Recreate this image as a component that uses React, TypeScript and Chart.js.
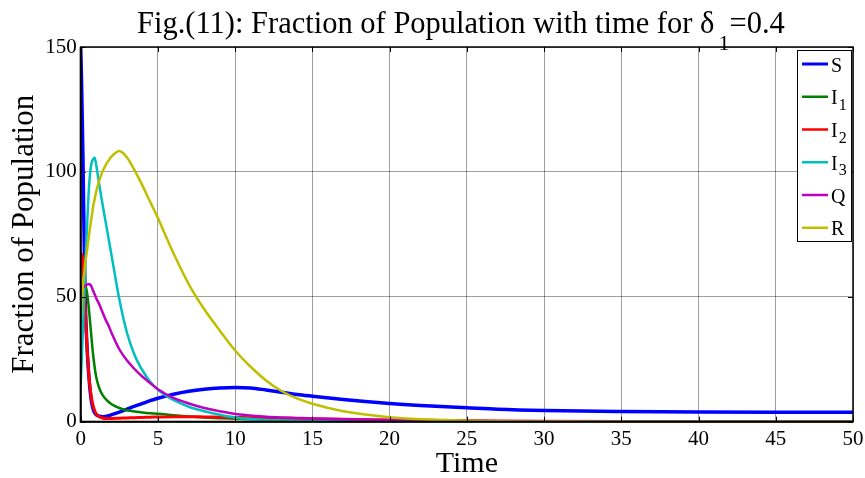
import { useEffect, useRef } from 'react';
import { Chart, registerables } from 'chart.js';

Chart.register(...registerables);

// ---- data ----
const TIME = [0, 0.05, 0.1, 0.15, 0.2, 0.25, 0.3, 0.4, 0.5, 0.6, 0.7, 0.8, 0.9, 1.0, 1.2, 1.4, 1.6, 1.8, 2.0, 2.5, 3.0, 3.5, 4.0, 4.5, 5, 6, 7, 8, 9, 10, 11, 12, 13, 14, 15, 17, 20, 22, 25, 27, 30, 35, 40, 45, 50];

const S_VALUES = [150, 138, 122, 104, 82, 62, 47, 31, 20.5, 13, 8, 5.2, 3.6, 2.8, 2.2, 2.0, 2.1, 2.4, 2.8, 3.8, 5.0, 6.2, 7.3, 8.4, 9.4, 11.0, 12.2, 13.0, 13.5, 13.7, 13.5, 12.7, 11.8, 10.9, 10.2, 8.9, 7.3, 6.5, 5.6, 5.0, 4.5, 4.1, 3.9, 3.8, 3.8];
const I1_VALUES = [40, 47, 51, 53, 54, 54.5, 54.5, 52, 47, 40.5, 33.5, 27, 22, 18, 13.5, 10.8, 9.2, 8, 7, 5.5, 4.6, 4.1, 3.7, 3.4, 3.2, 2.6, 2.1, 1.7, 1.4, 1.2, 1.0, 0.8, 0.6, 0.5, 0.4, 0.25, 0.1, 0.05, 0.02, 0, 0, 0, 0, 0, 0];
const I2_VALUES = [67, 67, 66.5, 63, 57, 51, 44, 31, 21, 14, 9.5, 6.5, 4.5, 3.2, 2.0, 1.5, 1.3, 1.3, 1.3, 1.4, 1.5, 1.6, 1.7, 1.8, 1.9, 2.0, 2.0, 1.9, 1.8, 1.7, 1.6, 1.5, 1.4, 1.3, 1.2, 1.0, 0.7, 0.55, 0.4, 0.3, 0.2, 0.1, 0.05, 0.02, 0];
const I3_VALUES = [15, 22, 30, 38, 46, 54, 63, 77, 90, 99, 103.5, 105, 105.7, 103, 95, 87.5, 80.5, 73.5, 66.5, 49, 35.5, 26.5, 20.5, 16, 12.8, 8.7, 6, 4.2, 2.8, 1.7, 1.1, 0.7, 0.5, 0.35, 0.25, 0.15, 0.08, 0.04, 0, 0, 0, 0, 0, 0, 0];
const Q_VALUES = [54, 54, 54, 54, 54, 54.2, 54.5, 54.8, 55, 55, 54, 52.5, 51, 49.5, 47, 44, 41, 38.5, 35.5, 29, 24.5, 21, 18, 15.5, 13, 9.5, 7.3, 5.5, 4.2, 3.1, 2.5, 2.0, 1.7, 1.5, 1.3, 1.0, 0.7, 0.5, 0.3, 0.2, 0.1, 0, 0, 0, 0];
const R_VALUES = [40.7, 45.5, 50, 54.5, 58, 61, 64, 68, 73, 77.5, 81.5, 86, 89, 92, 96.5, 100, 102.5, 104.5, 106.2, 108.4, 105.8, 100.5, 94.5, 88, 81.5, 67.5, 55, 45, 36.5, 28.5, 22, 16.5, 12.3, 9.3, 7.2, 4.2, 1.8, 1.0, 0.4, 0.2, 0.1, 0, 0, 0, 0];

const SERIES_NAMES = ['S', 'I', 'I', 'I', 'Q', 'R'];
const SERIES_SUBS = ['', '1', '2', '3', '', ''];
const SERIES_COLORS = ['#0000ff', '#008000', '#ff0000', '#00bfbf', '#bf00bf', '#bfbf00'];
const SERIES_WIDTHS = [3.5, 2.5, 3, 2.5, 2.5, 2.5];
const SERIES_VALUES = [S_VALUES, I1_VALUES, I2_VALUES, I3_VALUES, Q_VALUES, R_VALUES];

const X_TICKS = [0, 5, 10, 15, 20, 25, 30, 35, 40, 45, 50];
const Y_TICKS = [0, 50, 100, 150];

const TITLE_MAIN = 'Fig.(11): Fraction of Population with time for δ';
const TITLE_SUB = '1';
const TITLE_END = '=0.4';
const X_LABEL = 'Time';
const Y_LABEL = 'Fraction of Population';

const FONT = "'Liberation Serif', 'Times New Roman', serif";

const decorPlugin = {
  id: 'decor',
  afterDraw(chart: any) {
    const ctx = chart.ctx as CanvasRenderingContext2D;
    const area = chart.chartArea;
    const xs = chart.scales.x;
    const ys = chart.scales.y;
    ctx.save();

    // inner ticks
    ctx.strokeStyle = '#000';
    ctx.lineWidth = 1;
    const tl = 5;
    for (const t of X_TICKS) {
      const px = Math.round(xs.getPixelForValue(t)) + 0.5;
      ctx.beginPath();
      ctx.moveTo(px, area.bottom);
      ctx.lineTo(px, area.bottom - tl);
      ctx.moveTo(px, area.top);
      ctx.lineTo(px, area.top + tl);
      ctx.stroke();
    }
    for (const v of Y_TICKS) {
      const py = Math.round(ys.getPixelForValue(v)) + 0.5;
      ctx.beginPath();
      ctx.moveTo(area.left, py);
      ctx.lineTo(area.left + tl, py);
      ctx.moveTo(area.right, py);
      ctx.lineTo(area.right - tl, py);
      ctx.stroke();
    }

    // box
    ctx.lineWidth = 1.5;
    ctx.strokeRect(area.left, area.top, area.right - area.left, area.bottom - area.top);
    ctx.lineWidth = 2;
    ctx.beginPath();
    ctx.moveTo(area.left, area.top);
    ctx.lineTo(area.left, area.bottom);
    ctx.lineTo(area.right, area.bottom);
    ctx.stroke();

    // title
    ctx.fillStyle = '#000';
    ctx.textBaseline = 'alphabetic';
    ctx.textAlign = 'left';
    ctx.font = `30.5px ${FONT}`;
    let x = 137;
    ctx.fillText(TITLE_MAIN, x, 33);
    x += ctx.measureText(TITLE_MAIN).width + 4;
    ctx.font = `22px ${FONT}`;
    ctx.fillText(TITLE_SUB, x, 50);
    x += ctx.measureText(TITLE_SUB).width;
    ctx.font = `30.5px ${FONT}`;
    ctx.fillText(TITLE_END, x, 33);

    // x label
    ctx.textAlign = 'center';
    ctx.font = `30px ${FONT}`;
    ctx.fillText(X_LABEL, (area.left + area.right) / 2, 472);

    // y label
    ctx.save();
    ctx.translate(33, (area.top + area.bottom) / 2);
    ctx.rotate(-Math.PI / 2);
    ctx.textAlign = 'center';
    ctx.font = `31px ${FONT}`;
    ctx.fillText(Y_LABEL, 0, 0);
    ctx.restore();

    // legend
    const lx = 797, ly = 50, lw = 54, lh = 191;
    ctx.fillStyle = '#fff';
    ctx.fillRect(lx, ly, lw, lh);
    ctx.strokeStyle = '#000';
    ctx.lineWidth = 1;
    ctx.strokeRect(lx + 0.5, ly + 0.5, lw, lh);
    for (let i = 0; i < SERIES_NAMES.length; i++) {
      const yy = 64 + i * 32.75;
      ctx.strokeStyle = SERIES_COLORS[i];
      ctx.lineWidth = i === 0 ? 3 : 2.5;
      ctx.beginPath();
      ctx.moveTo(802, yy);
      ctx.lineTo(828, yy);
      ctx.stroke();
      ctx.fillStyle = '#000';
      ctx.textAlign = 'left';
      ctx.font = `20px ${FONT}`;
      ctx.fillText(SERIES_NAMES[i], 831, yy + 7.5);
      if (SERIES_SUBS[i]) {
        const w = ctx.measureText(SERIES_NAMES[i]).width;
        ctx.font = `16px ${FONT}`;
        ctx.fillText(SERIES_SUBS[i], 831 + w + 1, yy + 13);
      }
    }
    ctx.restore();
  },
};

export default function App() {
  const ref = useRef<HTMLCanvasElement | null>(null);
  useEffect(() => {
    if (!ref.current) return;
    const chart = new Chart(ref.current, {
      type: 'scatter',
      data: {
        datasets: SERIES_VALUES.map((vals, i) => ({
          label: SERIES_NAMES[i] + SERIES_SUBS[i],
          data: TIME.map((t, k) => ({ x: t, y: vals[k] })),
          showLine: true,
          borderColor: SERIES_COLORS[i],
          backgroundColor: SERIES_COLORS[i],
          borderWidth: SERIES_WIDTHS[i],
          pointRadius: 0,
          pointHoverRadius: 0,
          cubicInterpolationMode: 'monotone' as const,
          order: SERIES_VALUES.length - i,
        })),
      },
      options: {
        animation: false,
        responsive: true,
        maintainAspectRatio: false,
        events: [],
        layout: { padding: { top: 47, right: 12, left: 0, bottom: 0 } },
        plugins: { legend: { display: false }, title: { display: false }, tooltip: { enabled: false } },
        scales: {
          x: {
            type: 'linear',
            min: 0,
            max: 50,
            afterFit: (s: any) => { s.height = 56.3; s.paddingLeft = 0; s.paddingRight = 0; },
            afterBuildTicks: (s: any) => { s.ticks = X_TICKS.map((v) => ({ value: v })); },
            ticks: { color: '#000', font: { family: FONT, size: 21 }, padding: 5, maxRotation: 0, autoSkip: false },
            grid: { color: 'rgba(0,0,0,0.38)', lineWidth: 1, drawTicks: false },
            border: { display: false },
          },
          y: {
            type: 'linear',
            min: 0,
            max: 150,
            afterFit: (s: any) => { s.width = 80.7; s.paddingTop = 0; s.paddingBottom = 0; },
            afterBuildTicks: (s: any) => { s.ticks = Y_TICKS.map((v) => ({ value: v })); },
            ticks: { color: '#000', font: { family: FONT, size: 21 }, padding: 4 },
            grid: { color: 'rgba(0,0,0,0.38)', lineWidth: 1, drawTicks: false },
            border: { display: false },
          },
        },
      },
      plugins: [decorPlugin],
    } as any);
    return () => chart.destroy();
  }, []);
  return (
    <div style={{ position: 'fixed', left: 0, top: 0, width: 865, height: 478, background: '#fff' }}>
      <canvas ref={ref} />
    </div>
  );
}
